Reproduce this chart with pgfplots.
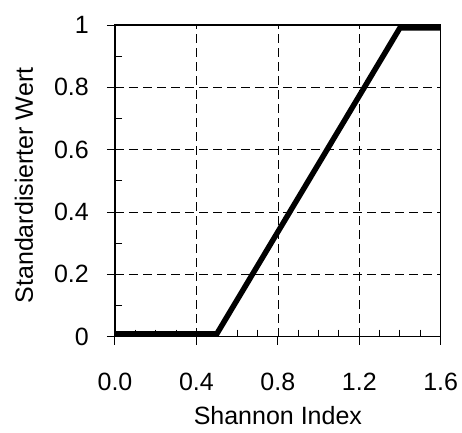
\documentclass[border=0pt]{standalone}
\usepackage{fontspec}
\setmainfont{Liberation Sans}
\usepackage{pgfplots}
\pgfplotsset{compat=1.18}

\begin{document}
\begin{tikzpicture}[font=\fontsize{25}{30}\selectfont]
\begin{axis}[
scale only axis,
width=325.7pt,
height=311.7pt,
xmin=0, xmax=1.6,
ymin=0, ymax=1,
xtick={0,0.4,...,1.6},
ytick={0,0.2,...,1},
minor x tick num=3,
minor y tick num=1,
xticklabels={0.0,0.4,0.8,1.2,1.6},
yticklabels={0,0.2,0.4,0.6,0.8,1},
xticklabel style={anchor=north, inner sep=0pt, yshift=-28pt},
yticklabel style={anchor=east, inner sep=0pt, xshift=-18pt},
tick pos=left,
tick align=outside,
major tick length=8pt,
minor tick length=-7pt,
tick style={black, line width=1pt},
axis line style={black, line width=1.5pt},
grid=major,
major grid style={black, line width=0.7pt, dash pattern=on 9pt off 5pt},
xlabel={Shannon Index},
ylabel={Standardisierter Wert},
x label style={at={(axis description cs:0.5,0)}, anchor=base, yshift=-88pt},
y label style={at={(axis description cs:-0.2518,0.485)}, anchor=base},
/pgf/number format/assume math mode=true,
]
\addplot[black, line width=5.5pt, line join=miter] coordinates {
(0,0.009) (0.5,0.009) (1.4,0.991) (1.6,0.991)
};
\end{axis}
\useasboundingbox (-115pt,-95.3pt) rectangle (347pt,336.7pt);
\end{tikzpicture}
\end{document}
